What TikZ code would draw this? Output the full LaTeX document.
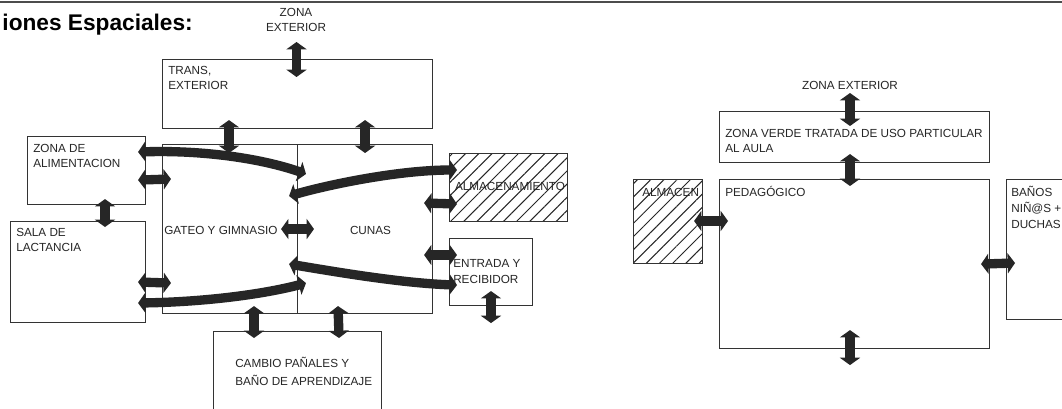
\documentclass[tikz,border=0pt]{standalone}
\usepackage{fontspec}
\setmainfont{Liberation Sans}
\usetikzlibrary{arrows.meta,calc,patterns.meta}
\newcommand\fl{\rule{0pt}{9pt}}
\begin{document}
\begin{tikzpicture}[x=0.75pt,y=-0.75pt,
 box/.style={draw=black!80,line width=0.8pt,inner sep=0pt,anchor=north west},
 hatch/.style={pattern={Lines[angle=45,distance=7pt,line width=0.75pt]},pattern color=black!85},
 lbl/.style={font=\fontsize{8.8}{11.75}\selectfont,text=black!85,inner sep=0pt,align=left,anchor=north west},
 one/.style={font=\fontsize{8.8}{11.75}\selectfont,text=black!85,inner sep=0pt},
 dbl/.style={line width=7pt,draw=black!85,>={Triangle[length=5.5pt,width=15pt]},<->},
]
\clip (0,0) rectangle (1062,408);
\fill[white] (0,0) rectangle (1062,408);
\draw[line width=1.5pt,black!70] (0,1.5) -- (1062,1.5);

% title
\node[font=\fontsize{17}{20}\selectfont\bfseries,inner sep=0pt,anchor=base east] (title) at (193,30.5) {iones Espaciales:};

% left diagram boxes
\node[box,minimum width=202.5pt,minimum height=51.75pt] (trans) at (162,59) {};
\node[box,minimum width=88.5pt,minimum height=51pt] (alim) at (27,136) {};
\node[box,minimum width=101.25pt,minimum height=75.75pt] (lact) at (10,221) {};
\node[box,minimum width=101.25pt,minimum height=126.75pt] (gateo) at (162,144) {};
\node[box,minimum width=101.25pt,minimum height=126.75pt] (cunas) at (297,144) {};
\node[box,hatch,minimum width=88.5pt,minimum height=51pt] (almac) at (449,153) {};
\node[box,minimum width=62.25pt,minimum height=50.25pt] (entrada) at (449,238) {};
\node[box,minimum width=126pt,minimum height=75pt] (cambio) at (213,331) {};

% right diagram boxes
\node[box,minimum width=202.5pt,minimum height=38.25pt] (verde) at (719,111) {};
\node[box,minimum width=202.5pt,minimum height=126.75pt] (ped) at (719,179) {};
\node[box,hatch,minimum width=51.75pt,minimum height=63pt] (almacen) at (633,179) {};
\node[box,minimum width=60pt,minimum height=105pt] (banos) at (1006,179) {};

% texts
\node[lbl,align=center,anchor=north] (zext) at (296,4) {\fl ZONA\\EXTERIOR};
\node[lbl] (ttrans) at ($(trans.north west)+(6,3)$) {\fl TRANS,\\EXTERIOR};
\node[lbl] (talim) at ($(alim.north west)+(6,4)$) {\fl ZONA DE\\ALIMENTACION};
\node[lbl] (tlact) at ($(lact.north west)+(6,3)$) {\fl SALA DE\\LACTANCIA};
\node[one,anchor=base west] (tgateo) at ($(gateo.west)+(2,5.5)$) {GATEO Y GIMNASIO};
\node[one,anchor=base] (tcunas) at ($(cunas.center)+(5.5,5.5)$) {CUNAS};
\node[one,anchor=base] (talmac) at ($(almac.center)+(1.5,3)$) {ALMACENAMIENTO};
\node[lbl,font=\fontsize{8.8}{12}\selectfont] (tentrada) at ($(entrada.north west)+(4,17)$) {\fl ENTRADA Y\\RECIBIDOR};
\node[lbl,font=\fontsize{8.8}{13.5}\selectfont] (tcambio) at ($(cambio.north west)+(22,24)$) {\fl CAMBIO PAÑALES Y\\BAÑO DE APRENDIZAJE};

\node[one,anchor=base] (zext2) at (850,89) {ZONA EXTERIOR};
\node[lbl] (tverde) at ($(verde.north west)+(6,14)$) {\fl ZONA VERDE TRATADA DE USO PARTICULAR\\AL AULA};
\node[lbl] (tped) at ($(ped.north west)+(6,5)$) {\fl PEDAGÓGICO};
\node[one,anchor=base west] (talmacen) at ($(almacen.north west)+(9,17)$) {ALMACEN};
\node[lbl,font=\fontsize{8.8}{12}\selectfont] (tbanos) at ($(banos.north west)+(5,5)$) {\fl BAÑOS\\NIÑ@S +\\DUCHAS};

% left straight connectors
\draw[dbl] ($(trans.north)+(-1,-17)$) -- ($(trans.north)+(-1,18)$);
\draw[dbl] ($(trans.south west)+(67,-9)$) -- ($(gateo.north west)+(67,9)$);
\draw[dbl] ($(trans.south east)+(-68,-9)$) -- ($(cunas.north east)+(-68,9)$);
\draw[dbl] ($(alim.south east)+(-8,-25)$) -- ($(gateo.north west)+(9,35)$);
\draw[dbl] ($(alim.south west)+(78,-6)$) -- ($(lact.north west)+(95,6)$);
\draw[dbl] ($(lact.north east)+(-8,61)$) -- ($(gateo.south west)+(9,-31)$);
\draw[dbl] ($(gateo.east)+(-17,0)$) -- ($(cunas.west)+(17,0)$);
\draw[dbl] ($(cunas.north east)+(-9,59)$) -- ($(almac.south west)+(8,-18)$);
\draw[dbl] ($(cunas.north east)+(-9,111)$) -- ($(entrada.north west)+(8,17)$);
\draw[dbl] ($(gateo.south west)+(92,-8)$) -- ($(cambio.north west)+(41,7)$);
\draw[dbl] ($(cunas.south west)+(41,-8)$) -- ($(cambio.north east)+(-43,7)$);
\draw[dbl] ($(entrada.south west)+(42,-15)$) -- ($(entrada.south west)+(42,17)$);

% left curved connectors
\draw[dbl] ($(alim.north east)+(-8,16)$) .. controls +(63,-2) and +(-46,-16) .. ($(cunas.north west)+(9,30)$);
\draw[dbl] ($(lact.north east)+(-8,82)$) .. controls +(63,-1) and +(-46,12) .. ($(cunas.south west)+(9,-31)$);
\draw[dbl] ($(gateo.north east)+(-9,52)$) .. controls +(42,-12) and +(-57,0) .. ($(almac.north west)+(8,17)$);
\draw[dbl] ($(gateo.south east)+(-9,-50)$) .. controls +(42,7) and +(-57,-2) .. ($(entrada.south west)+(8,-21)$);

% right connectors
\draw[dbl] ($(verde.north west)+(131,-18)$) -- ($(verde.north west)+(131,15)$);
\draw[dbl] ($(verde.south west)+(131,-9)$) -- ($(ped.north west)+(131,7)$);
\draw[dbl] ($(almacen.north east)+(-9,42)$) -- ($(ped.north west)+(9,42)$);
\draw[dbl] ($(ped.south east)+(-9,-85)$) -- ($(banos.north west)+(9,84)$);
\draw[dbl] ($(ped.south west)+(131,-19)$) -- ($(ped.south west)+(131,16)$);
\end{tikzpicture}
\end{document}
